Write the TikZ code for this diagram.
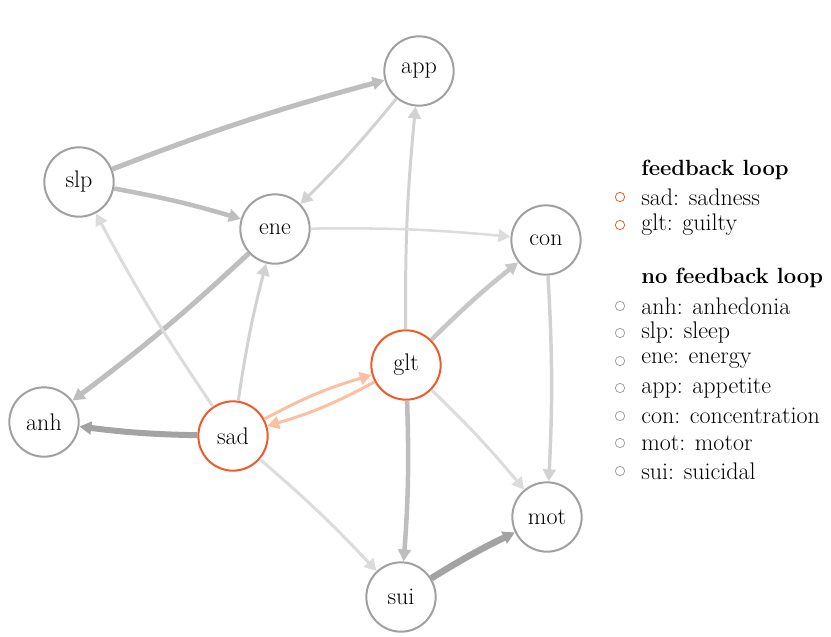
\documentclass[tikz,border=0pt]{standalone}
\usetikzlibrary{arrows.meta}
\definecolor{ringgray}{RGB}{160,160,160}
\definecolor{loopred}{RGB}{240,90,40}
\definecolor{looplight}{RGB}{251,192,162}
\definecolor{wdark}{RGB}{163,163,163}
\definecolor{wmid}{RGB}{190,190,190}
\definecolor{wsoft}{RGB}{199,199,199}
\definecolor{wlight}{RGB}{210,210,210}
\definecolor{wpale}{RGB}{220,220,220}
\tikzset{
  symptom/.style={circle,draw=ringgray,line width=1.5pt,fill=white,minimum size=52pt,inner sep=0pt,font=\fontsize{18}{21}\selectfont},
  loopnode/.style={symptom,draw=loopred},
  edge/.style={-{Triangle[length=9pt,width=9.5pt]},bend right=3},
  keytext/.style={anchor=west,inner sep=0.75pt,font=\fontsize{18}{21}\selectfont},
  keyhead/.style={keytext,font=\fontsize{16.5}{20}\selectfont\bfseries},
  keymark/.style={circle,draw=ringgray,line width=0.6pt,minimum size=7pt,inner sep=0pt},
}
\begin{document}
\begin{tikzpicture}[x=0.75pt,y=0.75pt,yscale=-1,xscale=1]
\useasboundingbox (0,0) rectangle (831,636);

% Symptom nodes
\node [symptom] (app) at (419,71) {app};
\node [symptom] (slp) at (79,182) {slp};
\node [symptom] (ene) at (275,229) {ene};
\node [symptom] (con) at (546,240) {con};
\node [loopnode] (glt) at (406,365) {glt};
\node [symptom] (anh) at (44,422) {anh};
\node [loopnode] (sad) at (233,436) {sad};
\node [symptom] (mot) at (547,517) {mot};
\node [symptom] (sui) at (401,597) {sui};

% Edges
\draw [edge,draw=wmid,line width=3.75pt] (slp) to (app);
\draw [edge,draw=wmid,line width=3.4pt] (slp) to (ene);
\draw [edge,draw=wlight,line width=2.25pt] (app) to (ene);
\draw [edge,draw=wlight,line width=2.25pt] (glt) to (app);
\draw [edge,draw=wpale,line width=1.9pt] (ene) to (con);
\draw [edge,draw=wsoft,line width=3.4pt] (glt) to (con);
\draw [edge,draw=wlight,line width=2.6pt] (con) to (mot);
\draw [edge,draw=wpale,line width=2.25pt] (glt) to (mot);
\draw [edge,draw=wmid,line width=3.4pt] (glt) to (sui);
\draw [edge,draw=wdark,line width=4.9pt] (sui) to (mot);
\draw [edge,draw=wpale,line width=2.25pt] (sad) to (sui);
\draw [edge,draw=wdark,line width=4.5pt] (sad) to (anh);
\draw [edge,draw=wmid,line width=3.75pt] (ene) to (anh);
\draw [edge,draw=wlight,line width=2.25pt] (sad) to (ene);
\draw [edge,draw=wpale,line width=2.25pt] (sad) to (slp);
% feedback loop
\draw [edge,bend right=6,draw=looplight,line width=2.25pt] (sad) to (glt);
\draw [edge,bend right=6,draw=looplight,line width=2.25pt] (glt) to (sad);

% Legend
\node [keyhead] (keyloop) at (640,170) {feedback loop};
\node [keytext] (keysad) at (640,197) {sad: sadness};
\node [keytext] (keyglt) at (640,225) {glt: guilty};
\node [keyhead] (keynoloop) at (640,278) {no feedback loop};
\node [keytext] (keyanh) at (640,306) {anh: anhedonia};
\node [keytext] (keyslp) at (640,333) {slp: sleep};
\node [keytext] (keyene) at (640,361) {ene: energy};
\node [keytext] (keyapp) at (640,388) {app: appetite};
\node [keytext] (keycon) at (640,416) {con: concentration};
\node [keytext] (keymot) at (640,443) {mot: motor};
\node [keytext] (keysui) at (640,471) {sui: suicidal};
\node [keymark,draw=loopred] (marksad) at (620,197) {};
\node [keymark,draw=loopred] (markglt) at (620,225) {};
\foreach \k/\y in {anh/306,slp/333,ene/361,app/388,con/416,mot/443,sui/471}
  \node [keymark] (mark\k) at (620,\y) {};

\end{tikzpicture}
\end{document}
